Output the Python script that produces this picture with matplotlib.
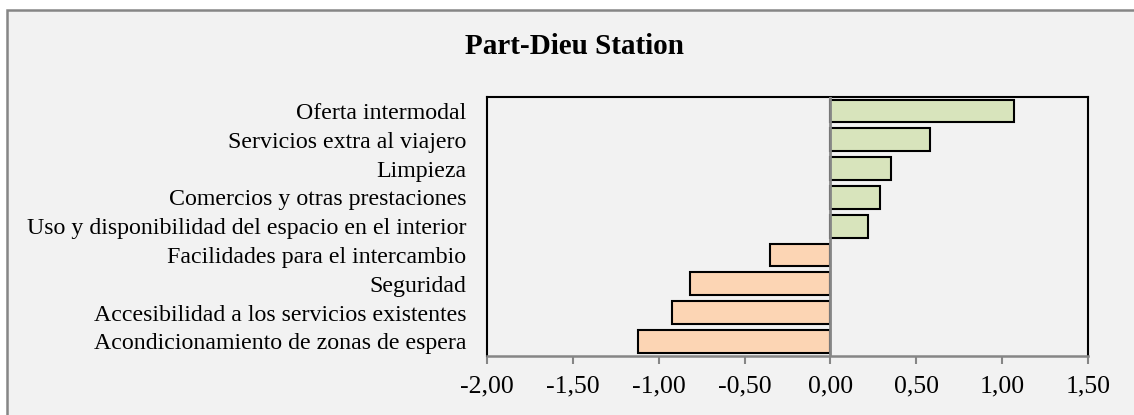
import matplotlib.pyplot as plt
from matplotlib.patches import Rectangle

labels = ['Oferta intermodal',
          'Servicios extra al viajero',
          'Limpieza',
          'Comercios y otras prestaciones',
          'Uso y disponibilidad del espacio en el interior',
          'Facilidades para el intercambio',
          'Seguridad',
          'Accesibilidad a los servicios existentes',
          'Acondicionamiento de zonas de espera']
values = [1.07, 0.58, 0.35, 0.29, 0.22, -0.35, -0.82, -0.92, -1.12]
xticks = [-2.0, -1.5, -1.0, -0.5, 0.0, 0.5, 1.0, 1.5]

plt.rcParams['font.family'] = ['Liberation Serif', 'DejaVu Serif']

W, H = 1134, 415
fig = plt.figure(figsize=(W / 100, H / 100), dpi=100, facecolor='white')

# grey chart area with its border (right and bottom edge run off the picture)
fig.patches.append(Rectangle((7 / W, -0.1), 1.2, 1 - 10 / H + 0.1,
                             transform=fig.transFigure, facecolor='#F2F2F2',
                             edgecolor='#868686', linewidth=1.8, zorder=-5))

ax = fig.add_axes([487 / W, 1 - 355.7 / H, (1088 - 487) / W, (355.7 - 96.7) / H])
ax.set_facecolor('#F2F2F2')

ypos = list(range(len(labels)))[::-1]
colors = ['#D8E4BC' if v > 0 else '#FCD5B4' for v in values]
ax.barh(ypos, values, height=0.79, color=colors, edgecolor='black',
        linewidth=1.5, zorder=2)
ax.axvline(0, color='#868686', linewidth=2, zorder=3)

ax.set_xlim(-2.0, 1.5)
ax.set_ylim(-0.5, len(labels) - 0.5)
ax.set_xticks(xticks)
ax.set_xticklabels([f'{t:.2f}'.replace('.', ',') for t in xticks], fontsize=18.5)
ax.set_yticks(ypos)
ax.set_yticklabels(labels, fontsize=17.2)
ax.tick_params(axis='x', direction='out', length=6, width=1.5, color='#868686', pad=8)
ax.tick_params(axis='y', length=0, pad=15)

for s in ['top', 'right', 'left']:
    ax.spines[s].set_color('black')
    ax.spines[s].set_linewidth(1.5)
ax.spines['bottom'].set_color('#868686')
ax.spines['bottom'].set_linewidth(1.8)

fig.text(574.5 / W, 1 - 46.7 / H, 'Part-Dieu Station', fontsize=21,
         fontweight='bold', ha='center', va='center')

fig.savefig('out.png', dpi=100, facecolor='white')
